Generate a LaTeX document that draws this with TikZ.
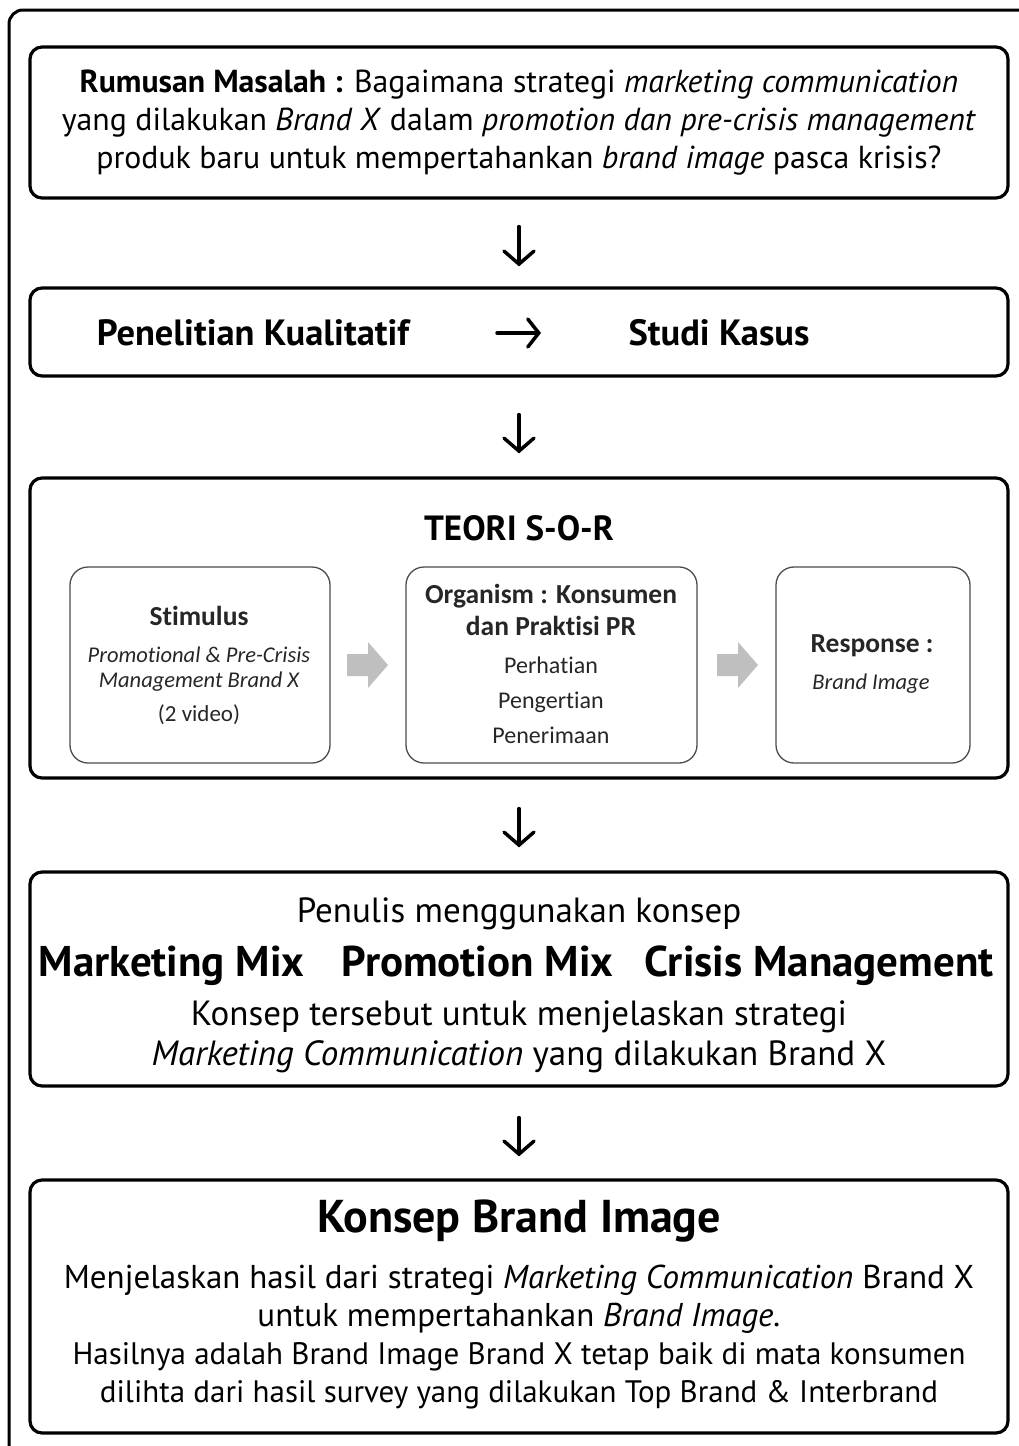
\documentclass[tikz,border=0pt]{standalone}
\usepackage{fontspec}
\setmainfont{PT Sans}
\newfontfamily\calfont[Ligatures=NoCommon]{Carlito}
\usetikzlibrary{arrows.meta}
\tikzset{
  bigbox/.style={draw, line width=3.2pt, rounded corners=12pt, minimum width=978pt, inner sep=0pt},
  smallbox/.style={draw=black!70, line width=1.3pt, rounded corners=18pt, minimum height=196pt, inner sep=0pt},
  flow/.style={-{Straight Barb[length=13pt,width=30pt,line cap=round]}, line width=3.5pt, line cap=round},
  txt/.style={inner sep=0pt, align=center},
  stxt/.style={inner sep=0pt, align=center, text=black!85},
  sbold/.style={stxt, font=\calfont\bfseries\fontsize{27.5}{30}\selectfont},
  sital/.style={stxt, font=\calfont\itshape\fontsize{22.5}{26}\selectfont},
  sreg/.style={stxt, font=\calfont\fontsize{24}{26}\selectfont},
  mixtxt/.style={inner sep=0pt, anchor=base, font=\bfseries\fontsize{43}{48}\selectfont},
  graya/.style={fill=black!25, draw=none}
}
\begin{document}
\begin{tikzpicture}[x=1pt,y=-1pt]
\useasboundingbox (0,0) rectangle (1019,1446);
% outer frame
\draw[line width=3pt, rounded corners=14pt] (9,1460) -- (9,10) -- (1030,10);

% box 1
\node[bigbox, minimum height=151pt] (b1) at (519,122.5) {};
\node[txt, font=\fontsize{31.8}{38}\selectfont] (t1) at (b1.center) {\textbf{Rumusan Masalah :} Bagaimana strategi \textit{marketing communication}\\
yang dilakukan \textit{Brand X} dalam \textit{promotion dan pre-crisis management}\\
produk baru untuk mempertahankan \textit{brand image} pasca krisis?};

% box 2
\node[bigbox, minimum height=88pt] (b2) at (519,332) {};
\node[txt, font=\bfseries\fontsize{36.5}{40}\selectfont] (pk) at (253,333) {Penelitian Kualitatif};
\node[txt, font=\bfseries\fontsize{36.5}{40}\selectfont] (sk) at (719,333) {Studi Kasus};
\coordinate (ha) at (497,333);
\coordinate (hb) at (541,333);
\draw[flow, -{Straight Barb[length=11pt,width=28pt,line cap=round]}] (ha) -- (hb);

% box 3
\node[bigbox, minimum height=300pt] (b3) at (519,628) {};
\node[txt, font=\bfseries\fontsize{35}{40}\selectfont] (sor) at (519,528) {TEORI S-O-R};
\node[smallbox, minimum width=260pt] (st) at (200,665) {};
\node[smallbox, minimum width=291pt] (og) at (551.5,665) {};
\node[smallbox, minimum width=194pt] (rs) at (873,665) {};
\node[sbold] (st1) at (199,616) {Stimulus};
\node[sital] (st2) at (199,655) {Promotional \& Pre-Crisis};
\node[sital] (st3) at (199,682) {Management Brand X};
\node[sreg, font=\calfont\fontsize{23}{26}\selectfont] (st4) at (199,715) {(2 video)};
\node[sbold] (og1) at (551,596) {Organism : Konsumen};
\node[sbold] (og2) at (551,626) {dan Praktisi PR};
\node[sreg] (og3) at (551,665) {Perhatian};
\node[sreg] (og4) at (551,702) {Pengertian};
\node[sreg] (og5) at (551,735) {Penerimaan};
\node[sbold] (rs1) at (872,646) {Response :};
\node[sital] (rs2) at (871,684) {Brand Image};
\fill[graya] (347,654) -- (368,654) -- (368,642) -- (388,665) -- (368,688) -- (368,676) -- (347,676) -- cycle;
\fill[graya] (717,654) -- (738,654) -- (738,642) -- (758,665) -- (738,688) -- (738,676) -- (717,676) -- cycle;

% box 4
\node[bigbox, minimum height=214pt] (b4) at (519,979) {};
\node[txt, font=\fontsize{35}{40}\selectfont] (l41) at (519,914) {Penulis menggunakan konsep};
\node[mixtxt] (m1) at (171.5,976) {Marketing Mix};
\node[mixtxt] (m2) at (477.5,976) {Promotion Mix};
\node[mixtxt] (m3) at (819,976) {Crisis Management};
\node[txt, font=\fontsize{35}{40}\selectfont] (l43) at (519,1017) {Konsep tersebut untuk menjelaskan strategi};
\node[txt, font=\fontsize{35}{40}\selectfont] (l44) at (519,1057) {\textit{Marketing Communication} yang dilakukan Brand X};

% box 5
\node[bigbox, minimum height=253pt] (b5) at (519,1306.5) {};
\node[txt, font=\bfseries\fontsize{46}{50}\selectfont] (l51) at (519,1221) {Konsep Brand Image};
\node[txt, font=\fontsize{33}{38.3}\selectfont] (l52) at (519,1337) {Menjelaskan hasil dari strategi \textit{Marketing Communication} Brand X\\
untuk mempertahankan \textit{Brand Image.}\\
\scalebox{0.94}{Hasilnya adalah Brand Image Brand X tetap baik di mata konsumen}\\
\scalebox{0.94}{dilihta dari hasil survey yang dilakukan Top Brand \& Interbrand}};

% flow arrows
\draw[flow, shorten <=27pt, shorten >=20pt] (b1.south) -- (b2.north);
\draw[flow, shorten <=37pt, shorten >=23pt] (b2.south) -- (b3.north);
\draw[flow, shorten <=29pt, shorten >=23pt] (b3.south) -- (b4.north);
\draw[flow, shorten <=30pt, shorten >=22pt] (b4.south) -- (b5.north);
\end{tikzpicture}
\end{document}
